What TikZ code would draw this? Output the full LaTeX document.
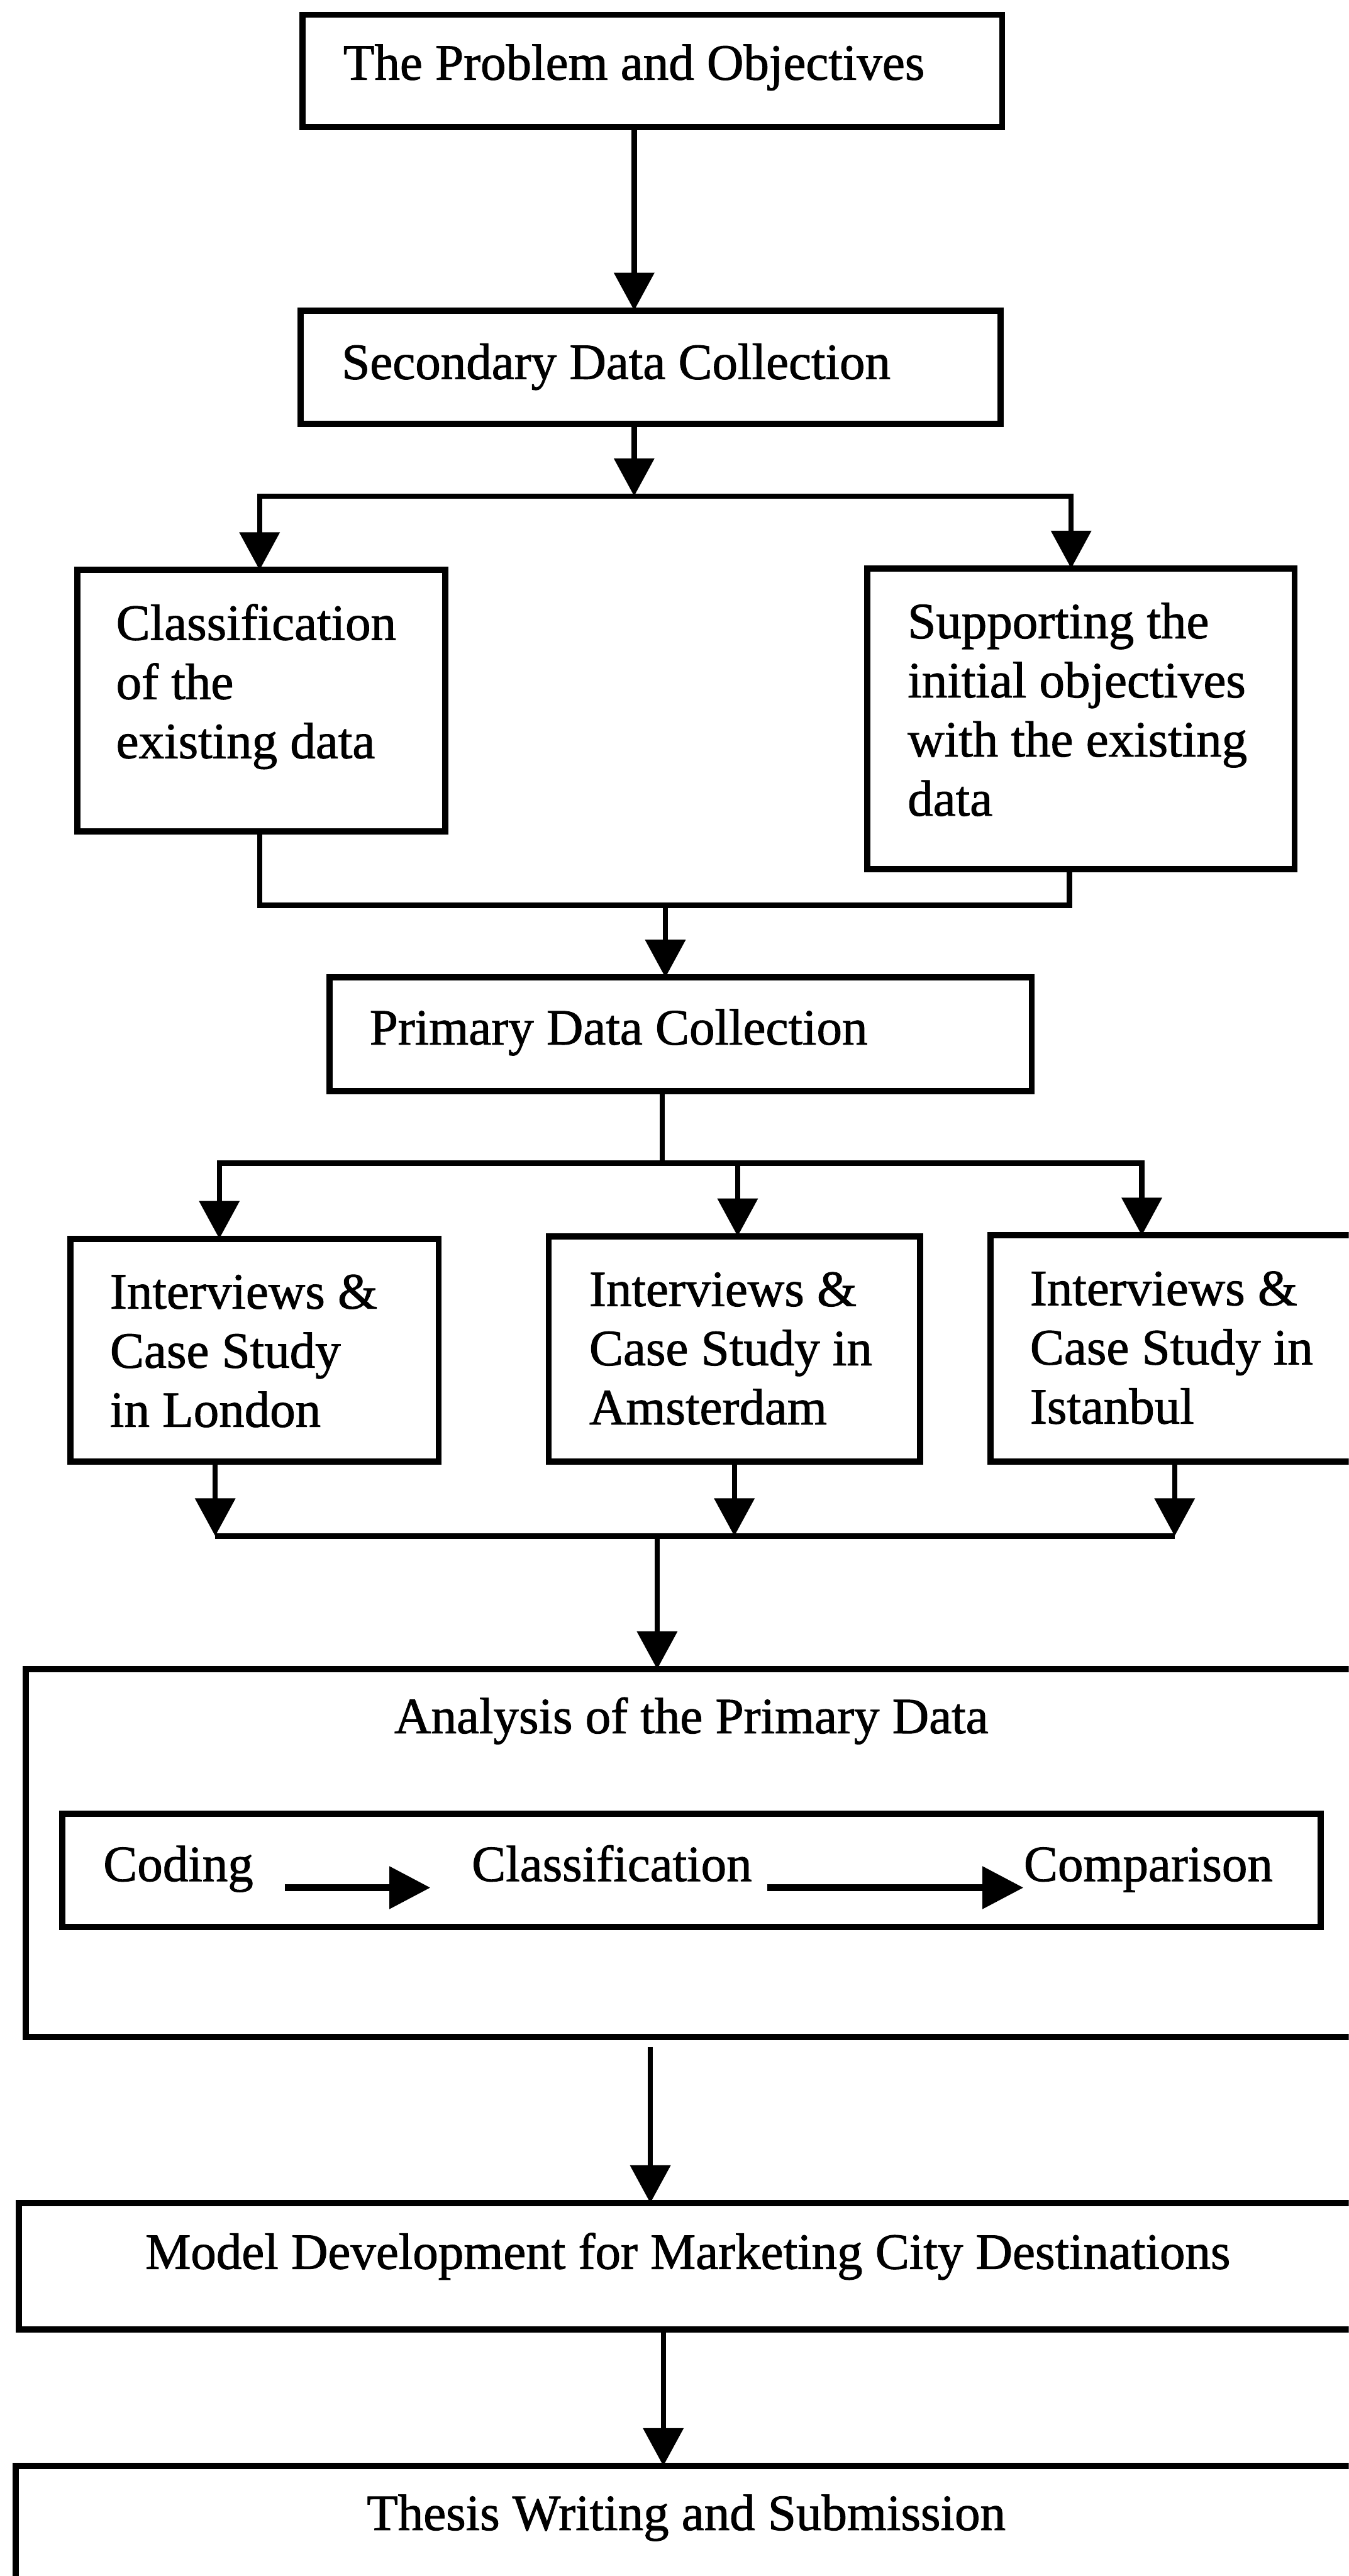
\documentclass[tikz,border=0pt]{standalone}
\usepackage{fontspec}
\setmainfont{Liberation Serif}[FakeBold=1.2]
\usetikzlibrary{arrows.meta}
\begin{document}
\begin{tikzpicture}[x=1pt,y=-1pt,
  font=\fontsize{31}{36}\selectfont,
  box/.style={draw, line width=3.8pt, anchor=north west, inner ysep=0pt,
    outer sep=0pt, align=flush left},
  cbox/.style={box, align=flush center, inner xsep=0pt},
  conn/.style={line width=3.2pt},
  arr/.style={conn, -{Triangle[length=23pt,width=24pt]}},
  inarr/.style={line width=4.2pt, -{Triangle[length=25pt,width=25pt]}},
  lbl/.style={anchor=base west, inner sep=0pt}]
\fill[white] (0,0) rectangle (821,1568);
\useasboundingbox (0,0) rectangle (821,1568);
\clip (0,0) rectangle (821,1568);

% main stages
\node[box, inner xsep=25pt, text width=376pt, text height=39.5pt, text depth=29pt]
  (b1) at (184,9) {The Problem and Objectives};
\node[box, inner xsep=25pt, text width=376pt, text height=41.7pt, text depth=27.3pt]
  (b2) at (183,189) {Secondary Data Collection};
\node[box, inner xsep=23.7pt, text width=176.6pt, text height=42.5pt, text depth=116.5pt]
  (b3) at (47,347) {Classification\\of the\\existing data};
\node[box, inner xsep=24.5pt, text width=211pt, text height=42.5pt, text depth=140.5pt]
  (b4) at (528,346) {Supporting the\\initial objectives\\with the existing\\data};
\node[box, inner xsep=24.4pt, text width=378.6pt, text height=40.8pt, text depth=28.2pt]
  (b5) at (200.6,595) {Primary Data Collection};
\node[box, inner xsep=24pt, text width=176pt, text height=42.5pt, text depth=93pt]
  (b6) at (43,754) {Interviews \&\\Case Study\\in London};
\node[box, inner xsep=24.7pt, text width=176.6pt, text height=42.5pt, text depth=94.5pt]
  (b7) at (334,752.5) {Interviews \&\\Case Study in\\Amsterdam};
\node[box, inner xsep=24pt, text width=178pt, text height=42.5pt, text depth=95pt]
  (b8) at (603,752) {Interviews \&\\Case Study in\\Istanbul};
\node[cbox, text width=810.3pt, text height=39pt, text depth=185pt]
  (ana) at (15.7,1016) {Analysis of the Primary Data};
\node[draw, line width=3.8pt, anchor=north west, outer sep=0pt, inner sep=0pt,
  minimum width=766pt, minimum height=69pt] (stages) at (38,1104) {};
\node[lbl] (cod) at (62.7,1145) {Coding};
\node[lbl] (cls) at (287,1145) {Classification};
\node[lbl] (cmp) at (623,1145) {Comparison};
\node[cbox, text width=814.5pt, text height=40pt, text depth=37pt]
  (model) at (11.5,1341) {Model Development for Marketing City Destinations};
\node[cbox, text width=816.6pt, text height=39pt, text depth=70pt]
  (thesis) at (9.4,1501) {Thesis Writing and Submission};

% junction points
\coordinate (split1) at (386,302);
\coordinate (merge1) at (405,551);
\coordinate (split2) at (403,708);
\coordinate (merge2) at (400,935);
\coordinate (b1out) at ([xshift=-11pt]b1.south);
\coordinate (b3in) at ([xshift=-1pt]b3.north);
\coordinate (b4in) at ([xshift=-6pt]b4.north);
\coordinate (b3out) at ([xshift=-1pt]b3.south);
\coordinate (b4out) at ([xshift=-7pt]b4.south);
\coordinate (b6in) at ([xshift=-21.5pt]b6.north);
\coordinate (b7in) at ([xshift=2pt]b7.north);
\coordinate (b8in) at ([xshift=-21pt]b8.north);
\coordinate (b6out) at ([xshift=-24pt]b6.south);
\coordinate (b8out) at ([xshift=-1pt]b8.south);
\coordinate (anaout) at ([xshift=-25pt]ana.south);
\coordinate (modelout) at ([xshift=-15pt]model.south);

% connectors
\draw[arr] (b1out) -- (b1out |- b2.north);
\draw[arr] (split1 |- b2.south) -- (split1);
\draw[arr] (split1) -| (b3in);
\draw[arr] (split1) -| (b4in);
\draw[conn] (b3out) |- (merge1);
\draw[conn] (b4out) |- (merge1);
\draw[arr] (merge1) -- (merge1 |- b5.north);
\draw[conn] (split2 |- b5.south) -- (split2);
\draw[arr] (split2) -| (b6in);
\draw[arr] (split2) -| (b7in);
\draw[arr] (split2) -| (b8in);
\draw[arr] (b6out) -- (b6out |- merge2);
\draw[arr] (b7.south) -- (b7.south |- merge2);
\draw[arr] (b8out) -- (b8out |- merge2);
\draw[conn] (b6out |- merge2) -- (b8out |- merge2);
\draw[arr] (merge2) -- (merge2 |- ana.north);
\draw[arr, shorten <=6pt] (anaout) -- (anaout |- model.north);
\draw[arr] (modelout) -- (modelout |- thesis.north);

% analysis steps
\draw[inarr] ([shift={(19pt,-4pt)}]cod.base east) -- ([shift={(-25pt,-4pt)}]cls.base west);
\draw[inarr] ([shift={(9pt,-4pt)}]cls.base east) -- ([shift={(0pt,-4pt)}]cmp.base west);
\end{tikzpicture}
\end{document}
